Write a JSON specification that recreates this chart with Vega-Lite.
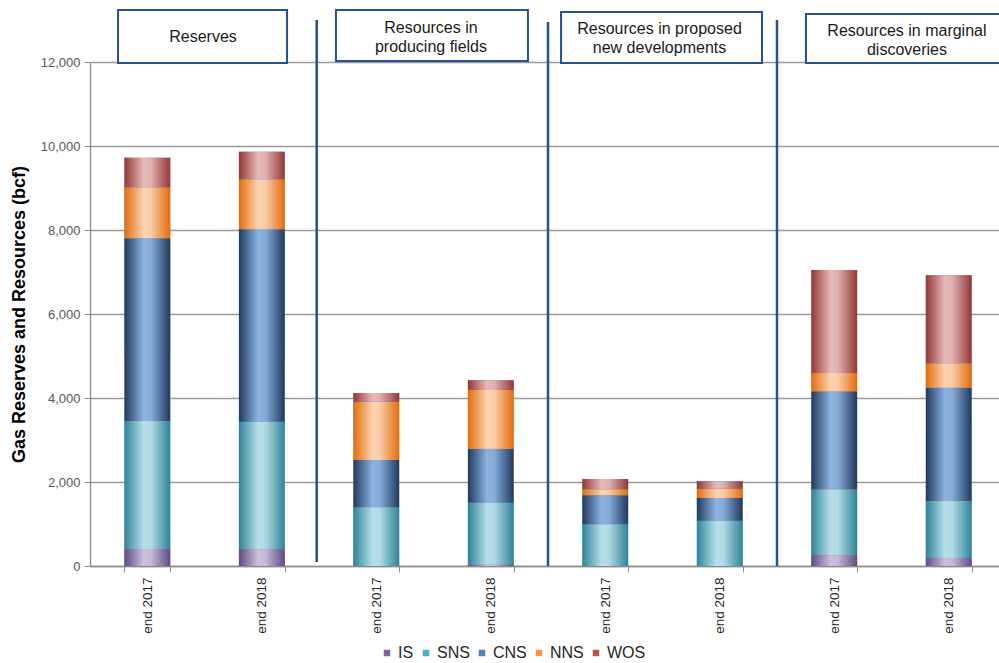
{
  "$schema": "https://vega.github.io/schema/vega-lite/v6.json",
  "autosize": {"type": "none"},
  "padding": {"left": 90, "top": 62, "right": 0, "bottom": 97},
  "width": 909,
  "height": 504,
  "background": "white",
  "config": {
    "view": {"stroke": null},
    "font": "Liberation Sans"
  },
  "datasets": {
    "gas": [
      {"bar": "Reserves|end 2017", "series": "IS", "value": 405},
      {"bar": "Reserves|end 2017", "series": "SNS", "value": 3047},
      {"bar": "Reserves|end 2017", "series": "CNS", "value": 4350},
      {"bar": "Reserves|end 2017", "series": "NNS", "value": 1215},
      {"bar": "Reserves|end 2017", "series": "WOS", "value": 704},
      {"bar": "Reserves|end 2018", "series": "IS", "value": 397},
      {"bar": "Reserves|end 2018", "series": "SNS", "value": 3039},
      {"bar": "Reserves|end 2018", "series": "CNS", "value": 4581},
      {"bar": "Reserves|end 2018", "series": "NNS", "value": 1190},
      {"bar": "Reserves|end 2018", "series": "WOS", "value": 657},
      {"bar": "Producing|end 2017", "series": "IS", "value": 0},
      {"bar": "Producing|end 2017", "series": "SNS", "value": 1398},
      {"bar": "Producing|end 2017", "series": "CNS", "value": 1126},
      {"bar": "Producing|end 2017", "series": "NNS", "value": 1388},
      {"bar": "Producing|end 2017", "series": "WOS", "value": 207},
      {"bar": "Producing|end 2018", "series": "IS", "value": 30},
      {"bar": "Producing|end 2018", "series": "SNS", "value": 1477},
      {"bar": "Producing|end 2018", "series": "CNS", "value": 1286},
      {"bar": "Producing|end 2018", "series": "NNS", "value": 1397},
      {"bar": "Producing|end 2018", "series": "WOS", "value": 231},
      {"bar": "Proposed|end 2017", "series": "IS", "value": 0},
      {"bar": "Proposed|end 2017", "series": "SNS", "value": 993},
      {"bar": "Proposed|end 2017", "series": "CNS", "value": 690},
      {"bar": "Proposed|end 2017", "series": "NNS", "value": 143},
      {"bar": "Proposed|end 2017", "series": "WOS", "value": 245},
      {"bar": "Proposed|end 2018", "series": "IS", "value": 0},
      {"bar": "Proposed|end 2018", "series": "SNS", "value": 1079},
      {"bar": "Proposed|end 2018", "series": "CNS", "value": 540},
      {"bar": "Proposed|end 2018", "series": "NNS", "value": 222},
      {"bar": "Proposed|end 2018", "series": "WOS", "value": 175},
      {"bar": "Marginal|end 2017", "series": "IS", "value": 255},
      {"bar": "Marginal|end 2017", "series": "SNS", "value": 1571},
      {"bar": "Marginal|end 2017", "series": "CNS", "value": 2334},
      {"bar": "Marginal|end 2017", "series": "NNS", "value": 435},
      {"bar": "Marginal|end 2017", "series": "WOS", "value": 2453},
      {"bar": "Marginal|end 2018", "series": "IS", "value": 190},
      {"bar": "Marginal|end 2018", "series": "SNS", "value": 1358},
      {"bar": "Marginal|end 2018", "series": "CNS", "value": 2697},
      {"bar": "Marginal|end 2018", "series": "NNS", "value": 581},
      {"bar": "Marginal|end 2018", "series": "WOS", "value": 2095}
    ]
  },
  "resolve": {"scale": {"x": "independent"}, "axis": {"x": "independent"}},
  "layer": [
    {
      "layer": [
        {
          "data": {"name": "gas"},
          "mark": {"type": "bar"},
          "encoding": {
            "x": {
              "field": "bar",
              "type": "nominal",
              "sort": null,
              "scale": {"paddingInner": 0.6, "paddingOuter": 0.27, "align": 0.557},
              "axis": {
                "title": null,
                "labelExpr": "split(datum.label, '|')[1]",
                "labelAngle": -90,
                "labelFontSize": 13.5,
                "labelColor": "#262626",
                "labelPadding": 5,
                "tickBand": "extent",
                "tickSize": 6,
                "tickColor": "#8c8c8c",
                "domainColor": "#8c8c8c",
                "domainWidth": 1.3,
                "grid": false
              }
            },
            "y": {
              "aggregate": "sum",
              "field": "value",
              "type": "quantitative",
              "stack": "zero",
              "scale": {"domain": [0, 12000], "nice": false},
              "axis": {
                "title": "Gas Reserves and Resources (bcf)",
                "titleFontSize": 18,
                "titleFontWeight": "bold",
                "titleColor": "#000000",
                "titlePadding": 12,
                "values": [0, 2000, 4000, 6000, 8000, 10000, 12000],
                "format": ",d",
                "labelFontSize": 13,
                "labelColor": "#595959",
                "labelPadding": 4,
                "tickSize": 6,
                "tickColor": "#8c8c8c",
                "domainColor": "#8c8c8c",
                "domainWidth": 1.3,
                "grid": true,
                "gridColor": "#9a9a9a",
                "gridWidth": 1.3
              }
            },
            "color": {
              "field": "series",
              "type": "nominal",
              "sort": ["IS", "SNS", "CNS", "NNS", "WOS"],
              "scale": {
                "domain": ["IS", "SNS", "CNS", "NNS", "WOS"],
                "range": ["#8064a2", "#4bacc6", "#4f81bd", "#f79646", "#c0504d"]
              },
              "legend": {
                "title": null,
                "orient": "none",
                "legendX": 289,
                "legendY": 583,
                "direction": "horizontal",
                "symbolType": "square",
                "symbolSize": 42,
                "symbolStrokeWidth": 0,
                "labelFontSize": 16,
                "labelColor": "#262626",
                "labelOffset": 3,
                "columnPadding": 4
              }
            }
          }
        },
        {
          "data": {"name": "gas"},
          "transform": [
            {"calculate": "indexof(['IS', 'SNS', 'CNS', 'NNS', 'WOS'], datum.series)", "as": "stackOrder"}
          ],
          "mark": {"type": "bar"},
          "encoding": {
            "x": {"field": "bar", "type": "nominal", "sort": null},
            "y": {"aggregate": "sum", "field": "value", "type": "quantitative", "stack": "zero"},
            "detail": {"field": "series", "type": "nominal"},
            "order": {"field": "stackOrder", "type": "quantitative"},
            "color": {
              "condition": [
                {"test": "datum.series === 'IS'", "value": {"gradient": "linear", "x1": 0, "x2": 1, "y1": 0, "y2": 0, "stops": [
                  {"offset": 0, "color": "#5e4a86"}, {"offset": 0.42, "color": "#ccc0da"}, {"offset": 0.58, "color": "#c6b9d6"}, {"offset": 1, "color": "#5e4a86"}]}},
                {"test": "datum.series === 'SNS'", "value": {"gradient": "linear", "x1": 0, "x2": 1, "y1": 0, "y2": 0, "stops": [
                  {"offset": 0, "color": "#2e8499"}, {"offset": 0.42, "color": "#b7dee8"}, {"offset": 0.58, "color": "#b0d9e3"}, {"offset": 1, "color": "#2e8499"}]}},
                {"test": "datum.series === 'CNS'", "value": {"gradient": "linear", "x1": 0, "x2": 1, "y1": 0, "y2": 0, "stops": [
                  {"offset": 0, "color": "#1f3a60"}, {"offset": 0.42, "color": "#8db3e2"}, {"offset": 0.58, "color": "#86abd8"}, {"offset": 1, "color": "#1f3a60"}]}},
                {"test": "datum.series === 'NNS'", "value": {"gradient": "linear", "x1": 0, "x2": 1, "y1": 0, "y2": 0, "stops": [
                  {"offset": 0, "color": "#e46c0a"}, {"offset": 0.42, "color": "#fbd3b2"}, {"offset": 0.58, "color": "#f8cba6"}, {"offset": 1, "color": "#e46c0a"}]}}
              ],
              "value": {"gradient": "linear", "x1": 0, "x2": 1, "y1": 0, "y2": 0, "stops": [
                {"offset": 0, "color": "#953735"}, {"offset": 0.42, "color": "#e6b9b8"}, {"offset": 0.58, "color": "#dfb0af"}, {"offset": 1, "color": "#953735"}]}
            }
          }
        }
      ]
    },
    {
      "data": {"values": [{}]},
      "layer": [
        {
          "mark": {"type": "rule", "color": "#27508f", "strokeWidth": 2.5},
          "encoding": {
            "x": {"datum": 1.98, "type": "quantitative", "scale": {"domain": [0, 7.939], "nice": false, "zero": false}, "axis": null},
            "y": {"datum": 95, "type": "quantitative"},
            "y2": {"datum": 13000}
          }
        },
        {
          "mark": {"type": "rule", "color": "#27508f", "strokeWidth": 2.5},
          "encoding": {
            "x": {"datum": 4.0, "type": "quantitative"},
            "y": {"datum": 0, "type": "quantitative"},
            "y2": {"datum": 12950}
          }
        },
        {
          "mark": {"type": "rule", "color": "#27508f", "strokeWidth": 2.5},
          "encoding": {
            "x": {"datum": 6.0, "type": "quantitative"},
            "y": {"datum": 0, "type": "quantitative"},
            "y2": {"datum": 13000}
          }
        },
        {
          "mark": {"type": "rect", "fill": "white", "stroke": "#27508f", "strokeWidth": 2},
          "encoding": {
            "x": {"datum": 0.245, "type": "quantitative"},
            "x2": {"datum": 1.721},
            "y": {"datum": 11976, "type": "quantitative"},
            "y2": {"datum": 13238}
          }
        },
        {
          "mark": {"type": "rect", "fill": "white", "stroke": "#27508f", "strokeWidth": 2},
          "encoding": {
            "x": {"datum": 2.148, "type": "quantitative"},
            "x2": {"datum": 3.825},
            "y": {"datum": 12024, "type": "quantitative"},
            "y2": {"datum": 13238}
          }
        },
        {
          "mark": {"type": "rect", "fill": "white", "stroke": "#27508f", "strokeWidth": 2},
          "encoding": {
            "x": {"datum": 4.114, "type": "quantitative"},
            "x2": {"datum": 5.869},
            "y": {"datum": 11976, "type": "quantitative"},
            "y2": {"datum": 13190}
          }
        },
        {
          "mark": {"type": "rect", "fill": "white", "stroke": "#27508f", "strokeWidth": 2},
          "encoding": {
            "x": {"datum": 6.253, "type": "quantitative"},
            "x2": {"datum": 8.2},
            "y": {"datum": 11976, "type": "quantitative"},
            "y2": {"datum": 13143}
          }
        },
        {
          "mark": {"type": "text", "text": "Reserves", "fontSize": 16, "color": "#1a1a1a", "baseline": "middle", "align": "center"},
          "encoding": {
            "x": {"datum": 0.987, "type": "quantitative"},
            "y": {"datum": 12595, "type": "quantitative"}
          }
        },
        {
          "mark": {"type": "text", "text": ["Resources in", "producing  fields"], "lineHeight": 19, "fontSize": 16, "color": "#1a1a1a", "baseline": "middle", "align": "center"},
          "encoding": {
            "x": {"datum": 2.978, "type": "quantitative"},
            "y": {"datum": 12810, "type": "quantitative"}
          }
        },
        {
          "mark": {"type": "text", "text": ["Resources in proposed", "new developments"], "lineHeight": 19, "fontSize": 16, "color": "#1a1a1a", "baseline": "middle", "align": "center"},
          "encoding": {
            "x": {"datum": 4.974, "type": "quantitative"},
            "y": {"datum": 12786, "type": "quantitative"}
          }
        },
        {
          "mark": {"type": "text", "text": ["Resources in marginal", "discoveries"], "lineHeight": 19, "fontSize": 16, "color": "#1a1a1a", "baseline": "middle", "align": "center"},
          "encoding": {
            "x": {"datum": 7.135, "type": "quantitative"},
            "y": {"datum": 12738, "type": "quantitative"}
          }
        }
      ]
    }
  ]
}
